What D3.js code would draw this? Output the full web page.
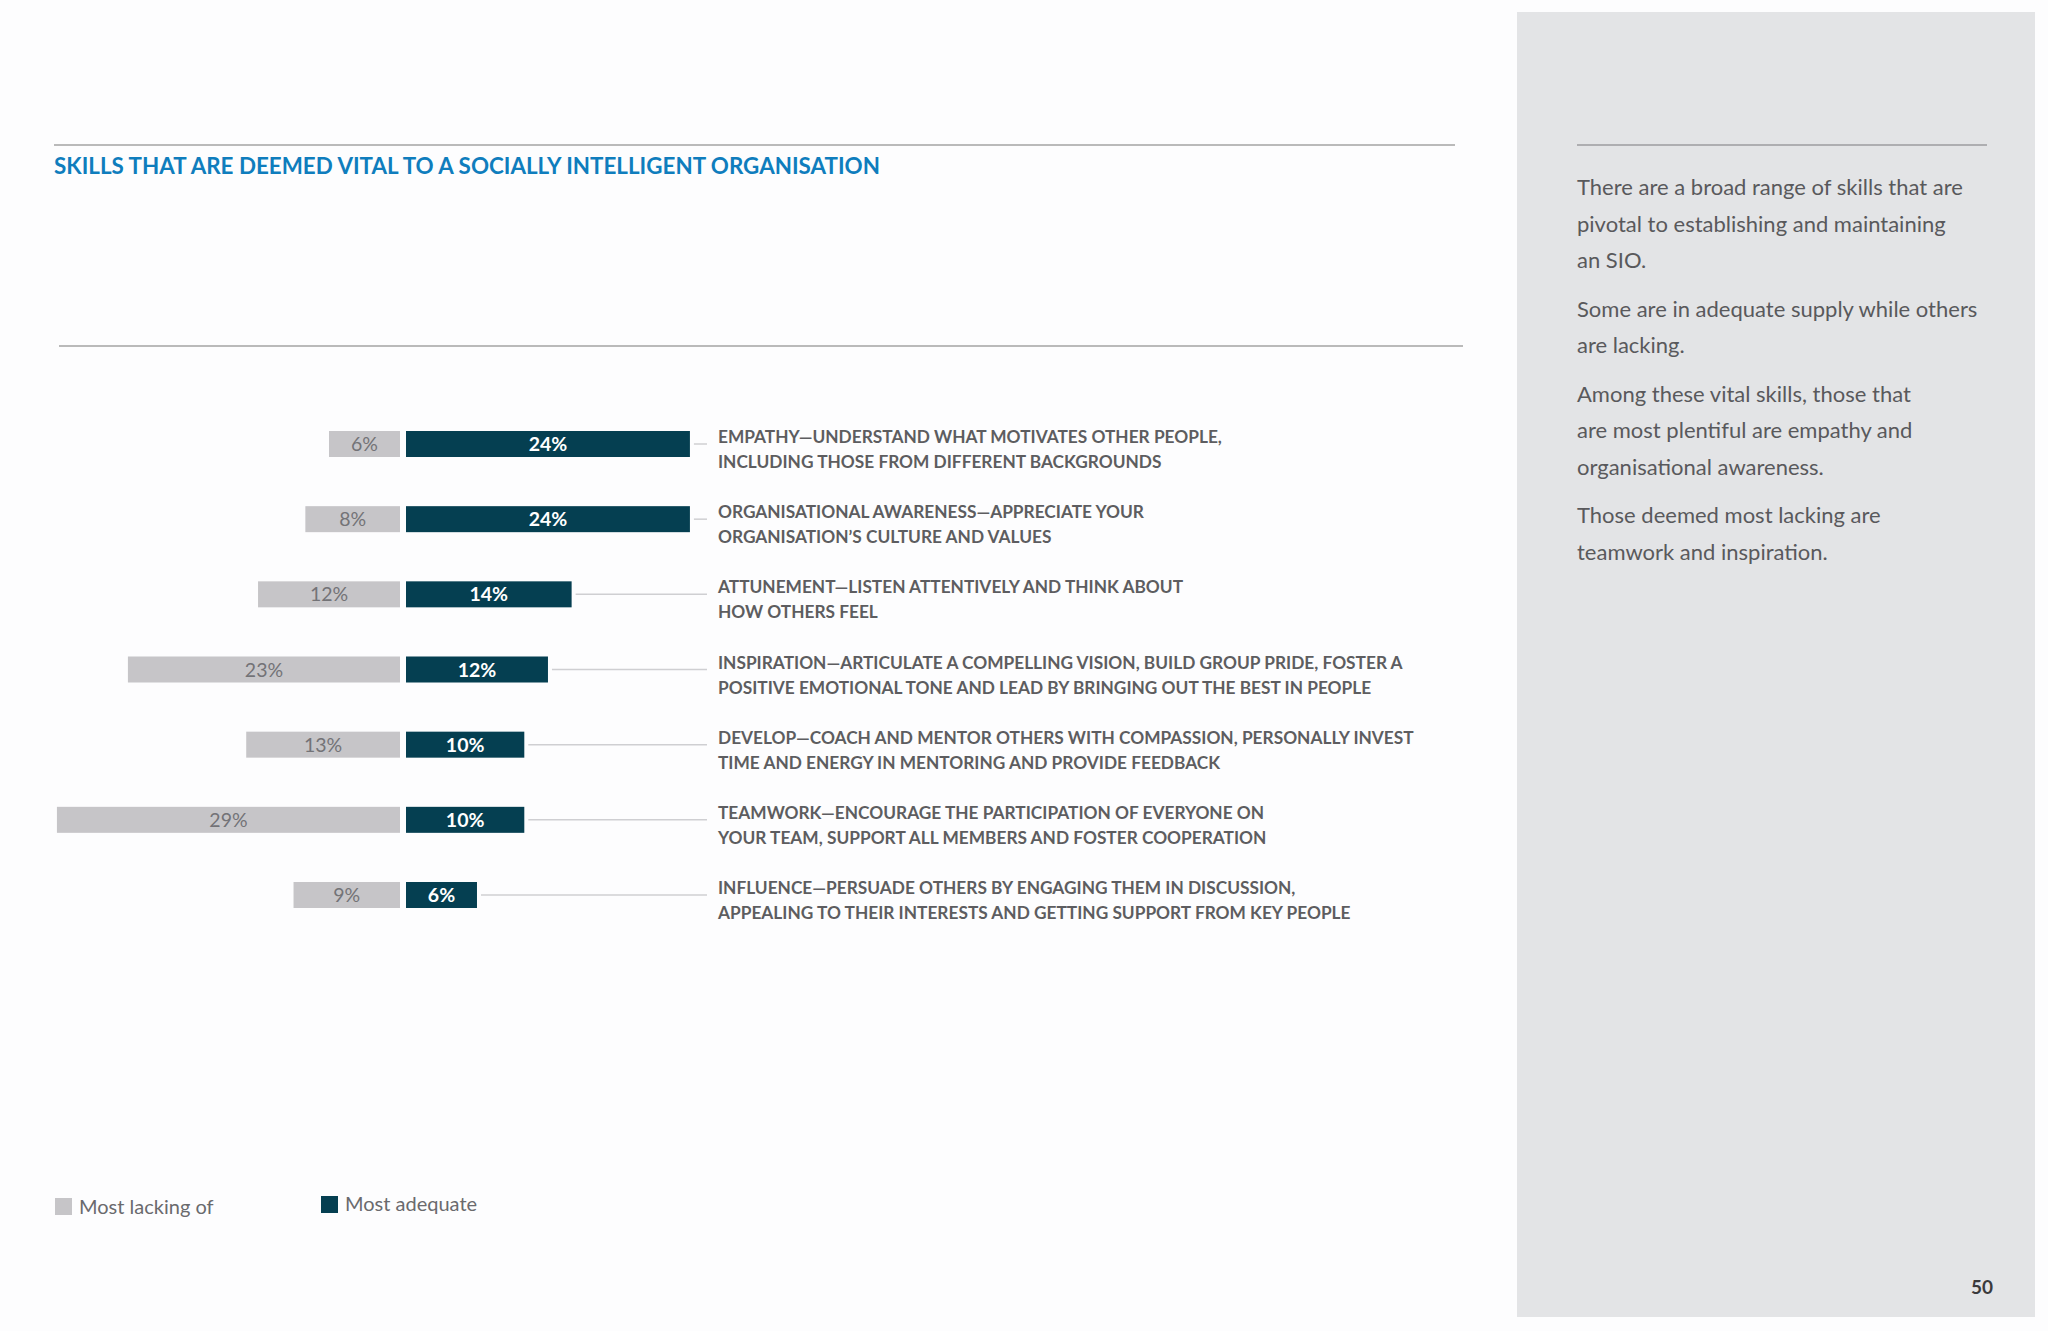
<!DOCTYPE html>
<html>
<head>
<meta charset="utf-8">
<script src="https://cdn.jsdelivr.net/npm/d3@7"></script>
<style>
  html, body { margin: 0; padding: 0; background: #fdfdfe; }
  svg { display: block; }
</style>
</head>
<body>
<div id="chart"></div>
<script>
// data
const skills = ['Empathy', 'Organisational awareness', 'Attunement', 'Inspiration', 'Develop', 'Teamwork', 'Influence'];
const descriptions = [
  ['EMPATHY\u2014UNDERSTAND WHAT MOTIVATES OTHER PEOPLE,', 'INCLUDING THOSE FROM DIFFERENT BACKGROUNDS'],
  ['ORGANISATIONAL AWARENESS\u2014APPRECIATE YOUR', 'ORGANISATION\u2019S CULTURE AND VALUES'],
  ['ATTUNEMENT\u2014LISTEN ATTENTIVELY AND THINK ABOUT', 'HOW OTHERS FEEL'],
  ['INSPIRATION\u2014ARTICULATE A COMPELLING VISION, BUILD GROUP PRIDE, FOSTER A', 'POSITIVE EMOTIONAL TONE AND LEAD BY BRINGING OUT THE BEST IN PEOPLE'],
  ['DEVELOP\u2014COACH AND MENTOR OTHERS WITH COMPASSION, PERSONALLY INVEST', 'TIME AND ENERGY IN MENTORING AND PROVIDE FEEDBACK'],
  ['TEAMWORK\u2014ENCOURAGE THE PARTICIPATION OF EVERYONE ON', 'YOUR TEAM, SUPPORT ALL MEMBERS AND FOSTER COOPERATION'],
  ['INFLUENCE\u2014PERSUADE OTHERS BY ENGAGING THEM IN DISCUSSION,', 'APPEALING TO THEIR INTERESTS AND GETTING SUPPORT FROM KEY PEOPLE']
];
const mostLacking = [6, 8, 12, 23, 13, 29, 9];
const mostAdequate = [24, 24, 14, 12, 10, 10, 6];
const seriesNames = ['Most lacking of', 'Most adequate'];

const title = 'SKILLS THAT ARE DEEMED VITAL TO A SOCIALLY INTELLIGENT ORGANISATION';
const sideParagraphs = [
  ['There are a broad range of skills that are', 'pivotal to establishing and maintaining', 'an SIO.'],
  ['Some are in adequate supply while others', 'are lacking.'],
  ['Among these vital skills, those that', 'are most plentiful are empathy and', 'organisational awareness.'],
  ['Those deemed most lacking are', 'teamwork and inspiration.']
];
const pageNumber = '50';

const W = 2048, H = 1331;
const GREY = '#c6c5c8', DARK = '#053f51', TEXT = '#5d5d60';
const font = 'Lato, "Noto Sans", sans-serif';

const svg = d3.select('#chart').append('svg')
  .attr('width', W).attr('height', H);

svg.append('rect').attr('width', W).attr('height', H).attr('fill', '#fdfdfe');

// header
svg.append('line')
  .attr('x1', 54).attr('x2', 1455).attr('y1', 145).attr('y2', 145)
  .attr('stroke', '#a3a3a3').attr('stroke-width', 1.5);

svg.append('text')
  .attr('x', 54).attr('y', 174)
  .style('font-family', font).style('font-weight', 700).style('font-size', '22.4px')
  .attr('fill', '#0f7dbd')
  .text(title);

svg.append('line')
  .attr('x1', 59).attr('x2', 1463).attr('y1', 346).attr('y2', 346)
  .attr('stroke', '#a3a3a3').attr('stroke-width', 1.5);

// scales
const y = d3.scalePoint().domain(skills).range([444, 895]);
const xLeft = d3.scaleLinear().domain([0, 30]).range([400, 400 - 30 * 11.83]);
const xRight = d3.scaleLinear().domain([0, 30]).range([406, 406 + 30 * 11.83]);
const barH = 26;
const labelX = 718;

const rows = skills.map((s, i) => ({ skill: s, lack: mostLacking[i], adeq: mostAdequate[i], desc: descriptions[i] }));

const g = svg.append('g');

// connectors
g.selectAll('.connector').data(rows).join('line')
  .attr('class', 'connector')
  .attr('x1', d => xRight(d.adeq) + 4).attr('x2', labelX - 11)
  .attr('y1', d => y(d.skill)).attr('y2', d => y(d.skill))
  .attr('stroke', '#cfcfd2').attr('stroke-width', 1.5);

g.selectAll('.bar-lack').data(rows).join('rect')
  .attr('class', 'bar-lack')
  .attr('x', d => xLeft(d.lack)).attr('width', d => xLeft(0) - xLeft(d.lack))
  .attr('y', d => y(d.skill) - barH / 2).attr('height', barH)
  .attr('fill', GREY);

g.selectAll('.bar-adeq').data(rows).join('rect')
  .attr('class', 'bar-adeq')
  .attr('x', xRight(0)).attr('width', d => xRight(d.adeq) - xRight(0))
  .attr('y', d => y(d.skill) - barH / 2).attr('height', barH)
  .attr('fill', DARK);

g.selectAll('.val-lack').data(rows).join('text')
  .attr('class', 'val-lack')
  .attr('x', d => (xLeft(d.lack) + xLeft(0)) / 2).attr('y', d => y(d.skill) + 7)
  .attr('text-anchor', 'middle')
  .style('font-family', font).style('font-size', '19.5px')
  .attr('fill', '#737377')
  .text(d => d.lack + '%');

g.selectAll('.val-adeq').data(rows).join('text')
  .attr('class', 'val-adeq')
  .attr('x', d => (xRight(0) + xRight(d.adeq)) / 2).attr('y', d => y(d.skill) + 7)
  .attr('text-anchor', 'middle')
  .style('font-family', font).style('font-size', '19.5px').style('font-weight', 700)
  .attr('fill', '#ffffff')
  .text(d => d.adeq + '%');

// descriptions
const desc = g.selectAll('.desc').data(rows).join('g').attr('class', 'desc');
desc.selectAll('text').data(d => d.desc.map((t, k) => ({ t, k, cy: y(d.skill) }))).join('text')
  .attr('x', labelX).attr('y', d => d.cy - 1 + d.k * 25)
  .style('font-family', font).style('font-size', '17.3px').style('font-weight', 700)
  .attr('fill', TEXT)
  .text(d => d.t);

// legend
const legend = svg.append('g');
const legendX = [55, 321];
const legendColors = [GREY, DARK];
seriesNames.forEach((name, i) => {
  legend.append('rect')
    .attr('x', legendX[i]).attr('y', i === 0 ? 1198 : 1196).attr('width', 17).attr('height', 17)
    .attr('fill', legendColors[i]);
  legend.append('text')
    .attr('x', legendX[i] + 24).attr('y', i === 0 ? 1214 : 1211)
    .style('font-family', font).style('font-size', '20px')
    .attr('fill', '#6a6a6d')
    .text(name);
});

// side panel
const side = svg.append('g');
side.append('rect').attr('x', 1517).attr('y', 12).attr('width', 518).attr('height', 1305).attr('fill', '#e3e4e6');
side.append('line')
  .attr('x1', 1577).attr('x2', 1987).attr('y1', 145).attr('y2', 145)
  .attr('stroke', '#9d9d9f').attr('stroke-width', 1.5);

let lineY = 195;
sideParagraphs.forEach(par => {
  par.forEach(line => {
    side.append('text')
      .attr('x', 1577).attr('y', lineY)
      .style('font-family', font).style('font-size', '22px')
      .attr('fill', '#59595c')
      .text(line);
    lineY += 36.5;
  });
  lineY += 12;
});

side.append('text')
  .attr('x', 1993).attr('y', 1294).attr('text-anchor', 'end')
  .style('font-family', font).style('font-size', '19px').style('font-weight', 700)
  .attr('fill', '#3a3a3c')
  .text(pageNumber);
</script>
</body>
</html>
